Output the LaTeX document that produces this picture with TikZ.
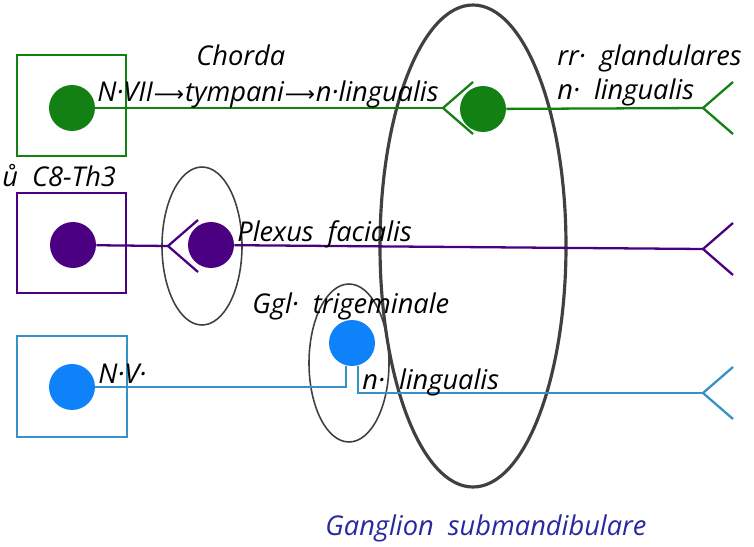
\documentclass[tikz,border=0pt]{standalone}
\usepackage{fontspec}
\setmainfont{Open Sans}
\newfontfamily\arrfont{DejaVu Sans}
\definecolor{nvii}{RGB}{18,128,18}
\definecolor{plex}{RGB}{75,0,130}
\definecolor{nvsoma}{RGB}{15,130,250}
\definecolor{nvline}{RGB}{55,145,200}
\definecolor{gglname}{RGB}{40,40,160}

\begin{document}
\begin{tikzpicture}[x=0.02cm,y=-0.02cm,
    every node/.style={font=\fontsize{15.5}{17}\selectfont\itshape},
    soma/.style={circle,fill=#1,inner sep=0pt,minimum size=0.92cm},
    nerve/.style={draw=#1,line width=1.3pt},
    ganglion/.style={draw=black!75,line width=0.9pt},
    lbl/.style={anchor=base west,inner sep=0pt}]
    \useasboundingbox (0,0) rectangle (754,547);
    \def\ar{\kern0.5pt{\arrfont\upshape\fontsize{12}{17}\selectfont ⟶}\kern0.5pt}

    % ganglia
    \draw[ganglion,line width=1.8pt] (473,246) ellipse (93 and 241);
    \draw[ganglion] (202,246) ellipse (40 and 79);
    \draw[ganglion] (349,363) ellipse (40 and 79);

    % nuclei
    \draw[nerve=nvii] (17,55) rectangle (126,156);
    \draw[nerve=plex] (17,193) rectangle (126,293);
    \draw[nerve=nvline] (17,336) rectangle (127,437);

    \coordinate (gf1) at (443,108);
    \coordinate (gf2) at (703,108);
    \coordinate (pf1) at (168,246);
    \coordinate (pf2) at (703,249);
    \coordinate (bf) at (703,393);

    \foreach \f/\c in {gf1/nvii, gf2/nvii, pf1/plex, pf2/plex, bf/nvline}
        \draw[nerve=\c] (\f) ++(30,-26) -- (\f) -- ++(30,26);

    \node[soma=nvii] (g1) at (72,108) {};
    \node[soma=nvii] (g2) at (483,109) {};
    \node[soma=plex] (p1) at (73,245) {};
    \node[soma=plex] (p2) at (211,245) {};
    \node[soma=nvsoma] (b1) at (72,387) {};
    \node[soma=nvsoma] (b2) at (352,343) {};

    \draw[nerve=nvii] (g1) -- (gf1);
    \draw[nerve=nvii] (g2) -- (gf2);
    \draw[nerve=plex] (p1) -- (pf1);
    \draw[nerve=plex] (p2) -- (pf2);
    \draw[nerve=nvline] (b1) -- (b2.-105 |- b1) -- (b2.-105);
    \draw[nerve=nvline] (b2.-75) -- (b2.-75 |- bf) -- (bf);

    % labels
    \node[lbl] (chorda) at (196,66) {Chorda};
    \node[lbl] (nvii) at (97,102) {N·VII\ar tympani\ar n·lingualis};
    \node[lbl] (rrgl) at (557,66) {rr·\ \ glandulares};
    \node[lbl] (nling1) at (557,100) {n·\ \ lingualis};
    \node[lbl] (c8) at (2,187) {ů\ \ C8-Th3};
    \node[lbl] (plexus) at (237,242) {Plexus\ \ facialis};
    \node[lbl] (ggltrig) at (252,314) {Ggl·\ \ trigeminale};
    \node[lbl] (nv) at (98,383) {N·V·};
    \node[lbl] (nling2) at (362,389) {n·\ \ lingualis};
    \node[lbl,text=gglname] (gglsub) at (325,535) {Ganglion\ \ submandibulare};
\end{tikzpicture}
\end{document}
